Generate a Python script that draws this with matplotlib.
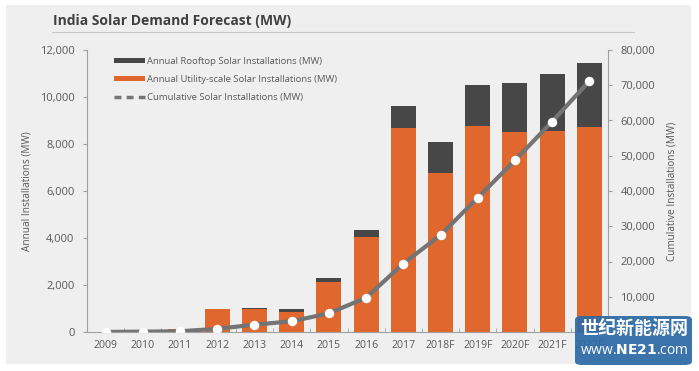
import matplotlib
matplotlib.use("Agg")
import matplotlib.pyplot as plt
from matplotlib.patches import Rectangle, FancyBboxPatch, Patch
from matplotlib.lines import Line2D
from matplotlib.ticker import FuncFormatter, MultipleLocator
import numpy as np

plt.rcParams['font.family'] = ['Open Sans', 'DejaVu Sans']

years = ["2009", "2010", "2011", "2012", "2013", "2014", "2015", "2016",
         "2017", "2018F", "2019F", "2020F", "2021F", "2022F"]
utility = [20, 40, 120, 960, 1000, 870, 2110, 4050, 8660, 6750, 8760, 8520, 8550, 8740]
rooftop = [0, 0, 20, 0, 30, 100, 200, 300, 960, 1320, 1740, 2090, 2440, 2690]
cumulative = [20, 100, 200, 900, 2080, 3030, 5300, 9740, 19400, 27500, 38100, 48700, 59700, 71200]

C_ORANGE = "#e0672e"
C_DARK = "#474747"
C_LINE = "#747474"
C_TEXT = "#595959"
C_BG = "#efefef"

fig = plt.figure(figsize=(6.99, 3.71), dpi=100, facecolor="white")
fig.patches.append(Rectangle((6/699, 1-364/371), 685/699, 359/371,
                             transform=fig.transFigure, facecolor=C_BG,
                             edgecolor="none", zorder=-10))

ax = fig.add_axes([87/699, 1-332/371, 521/699, 282/371])
ax.set_facecolor("none")
x = np.arange(len(years))
w = 0.67
ax.bar(x, utility, w, color=C_ORANGE, zorder=2)
ax.bar(x, rooftop, w, bottom=utility, color=C_DARK, zorder=2)
ax.set_xlim(-0.455, 13.48)
ax.set_ylim(0, 12000)
ax.yaxis.set_major_locator(MultipleLocator(2000))
ax.yaxis.set_major_formatter(FuncFormatter(lambda v, p: f"{int(v):,}"))
ax.set_xticks(x)
ax.set_xticklabels(years)
ax.set_xticks(np.arange(-0.5, 14, 1), minor=True)
ax.tick_params(axis="x", which="major", length=0, pad=6, labelsize=7.6, colors=C_TEXT)
ax.tick_params(axis="x", which="minor", length=3, color="#a0a0a0", direction="in")
ax.tick_params(axis="y", length=3, color="#a0a0a0", labelsize=8, colors=C_TEXT, pad=6)
for s in ["top", "right"]:
    ax.spines[s].set_visible(False)
for s in ["left", "bottom"]:
    ax.spines[s].set_color("#a0a0a0")
ax.set_ylabel("Annual Installations (MW)", fontsize=7.2, color=C_TEXT, labelpad=5)

ax2 = ax.twinx()
ax2.set_ylim(0, 80000)
ax2.plot(x, cumulative, color=C_LINE, lw=3, zorder=3, solid_capstyle="round")
ax2.plot(x, cumulative, "o", ms=5.8, mfc="white", mec="white", zorder=4)
ax2.yaxis.set_major_locator(MultipleLocator(10000))
ax2.yaxis.set_major_formatter(FuncFormatter(lambda v, p: "" if v == 0 else f"{int(v):,}"))
ax2.tick_params(axis="y", length=3, color="#a0a0a0", labelsize=8, colors=C_TEXT, pad=6)
for s in ["top", "left", "bottom"]:
    ax2.spines[s].set_visible(False)
ax2.spines["right"].set_color("#a0a0a0")
ax2.set_ylabel("Cumulative Installations (MW)", fontsize=7.2, color=C_TEXT, labelpad=8)

handles = [Patch(facecolor=C_DARK), Patch(facecolor=C_ORANGE),
           Line2D([0], [0], color=C_LINE, lw=2.5, ls=(0, (2, 1.5)))]
labels = ["Annual Rooftop Solar Installations (MW)",
          "Annual Utility-scale Solar Installations (MW)",
          "Cumulative Solar Installations (MW)"]
leg = ax.legend(handles, labels, loc="upper left", bbox_to_anchor=(0.035, 1.005),
                frameon=False, fontsize=6.8, handlelength=3.3, handleheight=0.45,
                handletextpad=0.2, labelspacing=0.95, labelcolor=C_TEXT)

fig.text(53/699, 1-21/371, "India Solar Demand Forecast (MW)", fontsize=10,
         fontweight="bold", color="#404040", va="center", ha="left")
fig.add_artist(Line2D([52/699, 634/699], [1-32/371, 1-32/371],
                      transform=fig.transFigure, color="#c8c8c8", lw=0.8))

# watermark
fig.patches.append(FancyBboxPatch((575/699, 1-365/371), 117/699, 49/371,
                                  boxstyle="round,pad=0,rounding_size=0.01",
                                  transform=fig.transFigure, facecolor="#2c6aa6",
                                  edgecolor="none", alpha=0.92, zorder=5))
fig.text(634/699, 1-328/371, "世纪新能源网", fontsize=13, fontweight="bold",
         color="white", ha="center", va="center",
         family=["Noto Sans CJK SC", "DejaVu Sans"], zorder=6)
fig.text(634/699, 1-351/371, "www.$\\mathbf{NE21}$.com", fontsize=10, color="white",
         ha="center", va="center", zorder=6)

fig.savefig("out.png", dpi=100, facecolor="white")
